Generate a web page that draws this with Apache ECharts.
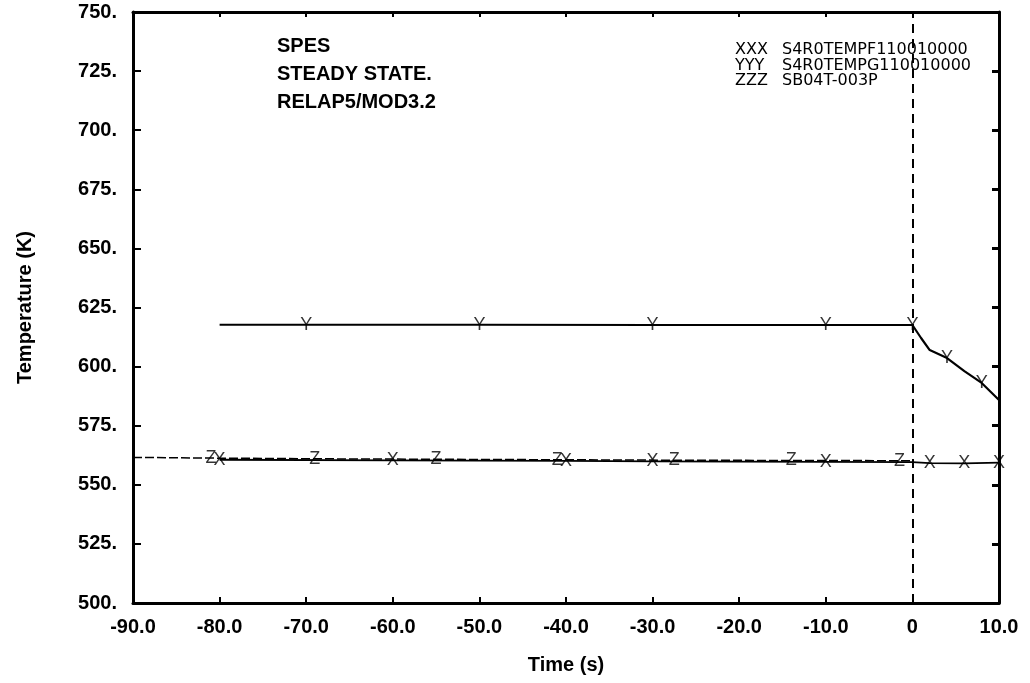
<!DOCTYPE html>
<html>
<head>
<meta charset="utf-8">
<script src="https://cdn.jsdelivr.net/npm/echarts@6/dist/echarts.min.js"></script>
<style>
html,body{margin:0;padding:0;background:#fff;}
#chart{width:1030px;height:683px;}
</style>
</head>
<body>
<div id="chart"></div>
<script>
// ---- data ----
const seriesNames = ['S4R0TEMPF110010000', 'S4R0TEMPG110010000', 'SB04T-003P'];
const legendCodes = ['XXX', 'YYY', 'ZZZ'];
const annotations = ['SPES', 'STEADY STATE.', 'RELAP5/MOD3.2'];

// XXX: S4R0TEMPF110010000
const timeX = [-80, -60, -40, -30, -10, 0, 2, 6, 10];
const tempX = [560.6, 560.3, 560.1, 559.9, 559.7, 559.6, 559.2, 559.1, 559.4];
const markTimeX = [-80, -60, -40, -30, -10, 2, 6, 10];
const markTempX = [560.6, 560.3, 560.1, 559.9, 559.7, 559.2, 559.1, 559.4];

// YYY: S4R0TEMPG110010000
const timeY = [-80, -70, -50, -30, -10, 0, 1, 2, 4, 6, 8, 10];
const tempY = [617.7, 617.7, 617.7, 617.6, 617.6, 617.6, 612.1, 607.0, 603.6, 598.1, 593.1, 585.9];
const markTimeY = [-70, -50, -30, -10, 0, 4, 8];
const markTempY = [617.7, 617.7, 617.6, 617.6, 617.6, 603.6, 593.1];

// ZZZ: SB04T-003P
const timeZ = [-90, -81, -69, -55, -41, -27.5, -14, -1.5, 0];
const tempZ = [561.6, 561.3, 561.0, 560.8, 560.6, 560.4, 560.3, 560.2, 560.2];
const markTimeZ = [-81, -69, -55, -41, -27.5, -14, -1.5];
const markTempZ = [561.3, 561.0, 560.8, 560.6, 560.4, 560.3, 560.2];

const xMin = -90, xMax = 10, xStep = 10;
const yMin = 500, yMax = 750, yStep = 25;
const eventTime = 0;

// ---- build chart ----
const zip = (a, b) => a.map((v, i) => [v, b[i]]);
const FONT = '"Liberation Sans", Arial, Helvetica, sans-serif';

function markerSeries(letter, xs, ys) {
  return {
    type: 'scatter',
    data: zip(xs, ys),
    symbol: 'circle',
    symbolSize: 1,
    itemStyle: { color: 'rgba(0,0,0,0)' },
    label: {
      show: true, position: 'inside', formatter: letter,
      color: '#000', fontFamily: FONT, fontSize: 18
    },
    silent: true, z: 5
  };
}

const baseAxisLine = { show: true, onZero: false, lineStyle: { color: '#000', width: 3 } };

const option = {
  animation: false,
  backgroundColor: '#fff',
  grid: { left: 133, right: 31, top: 12, bottom: 80 },
  xAxis: [
    {
      type: 'value', min: xMin, max: xMax, interval: xStep, position: 'bottom',
      axisLine: baseAxisLine,
      axisTick: { show: true, inside: true, length: 6, lineStyle: { color: '#000', width: 2 } },
      axisLabel: {
        margin: 14, color: '#000', fontFamily: FONT, fontWeight: 'bold', fontSize: 20,
        formatter: v => (v === 0 ? '0' : v.toFixed(1))
      },
      splitLine: { show: false },
      name: 'Time (s)', nameLocation: 'middle', nameGap: 52,
      nameTextStyle: { color: '#000', fontFamily: FONT, fontWeight: 'bold', fontSize: 20 }
    },
    {
      type: 'value', min: xMin, max: xMax, interval: xStep, position: 'top',
      axisLine: baseAxisLine,
      axisTick: { show: true, inside: true, length: 5, lineStyle: { color: '#000', width: 2 } },
      axisLabel: { show: false }, splitLine: { show: false }
    }
  ],
  yAxis: [
    {
      type: 'value', min: yMin, max: yMax, interval: yStep, position: 'left',
      axisLine: baseAxisLine,
      axisTick: { show: true, inside: true, length: 8, lineStyle: { color: '#000', width: 2 } },
      axisLabel: {
        margin: 16, color: '#000', fontFamily: FONT, fontWeight: 'bold', fontSize: 20,
        formatter: v => v + '.'
      },
      splitLine: { show: false },
      name: 'Temperature (K)', nameLocation: 'middle', nameGap: 98,
      nameTextStyle: { color: '#000', fontFamily: FONT, fontWeight: 'bold', fontSize: 20 }
    },
    {
      type: 'value', min: yMin, max: yMax, interval: yStep, position: 'right',
      axisLine: baseAxisLine,
      axisTick: { show: true, inside: true, length: 7, lineStyle: { color: '#000', width: 3 } },
      axisLabel: { show: false }, splitLine: { show: false }
    }
  ],
  series: [
    {
      name: seriesNames[0], type: 'line', data: zip(timeX, tempX), showSymbol: false, symbol: 'none',
      lineStyle: { color: '#000', width: 1.8 }, z: 3,
      markLine: {
        silent: true, symbol: 'none', label: { show: false },
        lineStyle: { color: '#000', width: 2, type: [9, 6] },
        data: [{ xAxis: eventTime }]
      }
    },
    {
      name: seriesNames[1], type: 'line', data: zip(timeY, tempY), showSymbol: false, symbol: 'none',
      lineStyle: { color: '#000', width: 2.2 }, z: 3
    },
    {
      name: seriesNames[2], type: 'line', data: zip(timeZ, tempZ), showSymbol: false, symbol: 'none',
      lineStyle: { color: '#000', width: 1.5, type: [9, 3] }, z: 3
    },
    markerSeries('X', markTimeX, markTempX),
    markerSeries('Y', markTimeY, markTempY),
    markerSeries('Z', markTimeZ, markTempZ)
  ],
  graphic: [
    ...annotations.map((t, i) => ({
      type: 'text', left: 277, top: 36 + i * 28,
      style: { text: t, fill: '#000', font: 'bold 20px ' + FONT }
    })),
    ...legendCodes.map((c, i) => ({
      type: 'text', left: 735, top: 42 + i * 15.5,
      style: { text: c, fill: '#000', font: '16px "DejaVu Sans", sans-serif' }
    })),
    ...seriesNames.map((n, i) => ({
      type: 'text', left: 782, top: 42 + i * 15.5,
      style: { text: n, fill: '#000', font: '16px "DejaVu Sans", sans-serif' }
    }))
  ]
};

const chart = echarts.init(document.getElementById('chart'), null, { renderer: 'canvas' });
chart.setOption(option);
</script>
</body>
</html>
